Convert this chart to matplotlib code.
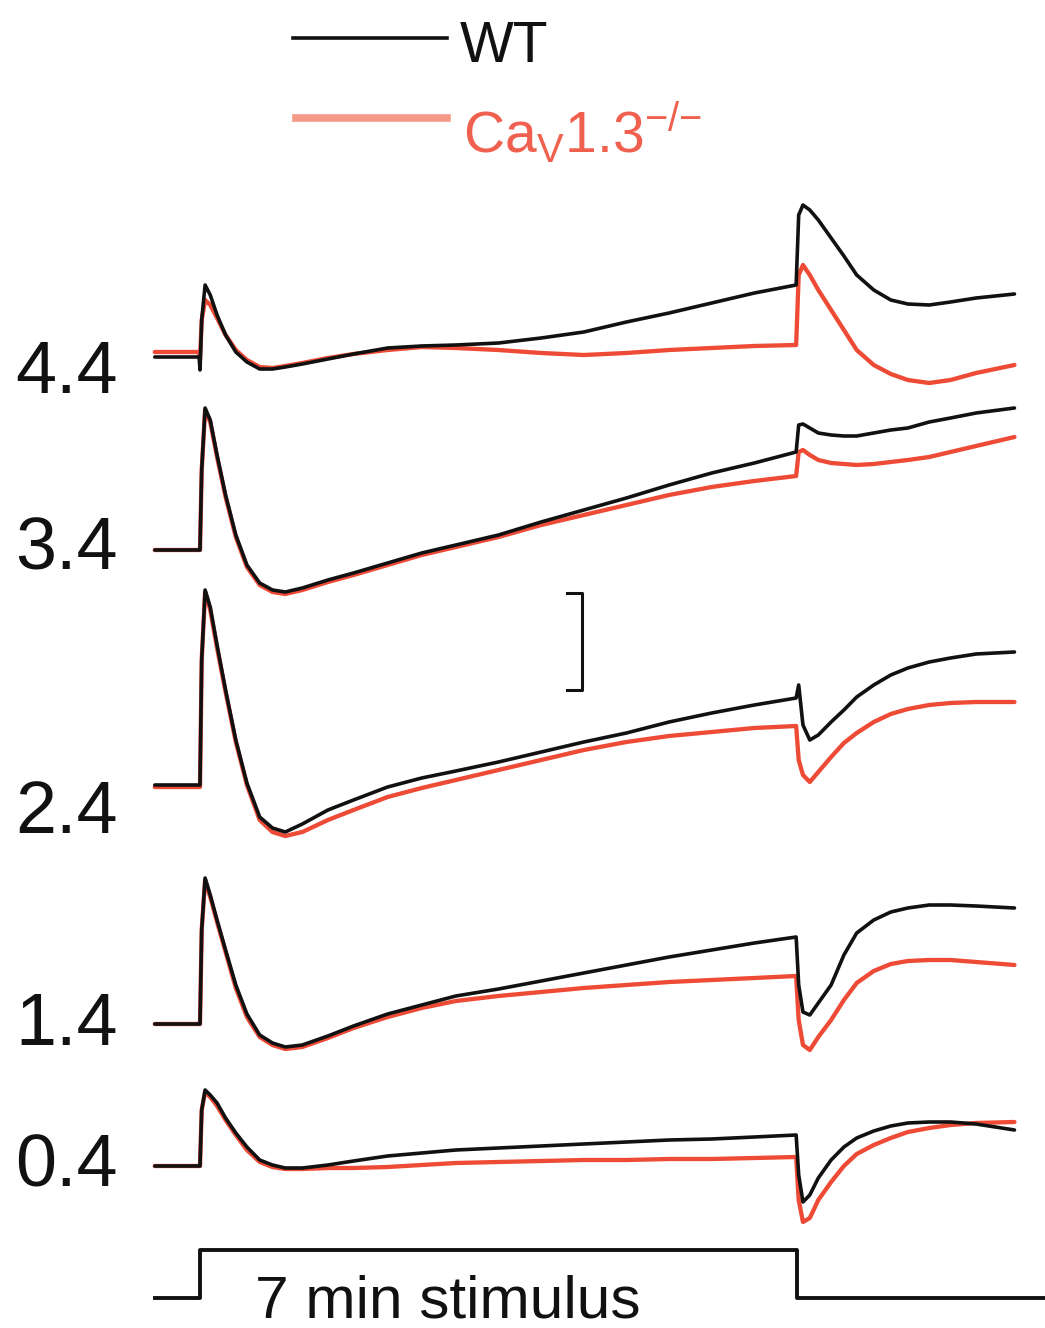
import matplotlib
matplotlib.use("Agg")
import matplotlib.pyplot as plt
import numpy as np

plt.rcParams['font.family'] = ['Liberation Sans', 'DejaVu Sans']
plt.rcParams['mathtext.fontset'] = 'custom'
plt.rcParams['mathtext.rm'] = 'Liberation Sans'

# time axis (minutes, stimulus on at 0, off at 7)
time_min = [-0.53, -0.01, 0.0, 0.02, 0.06, 0.12, 0.2, 0.3, 0.42, 0.55, 0.7, 0.85, 1.0, 1.2,
            1.5, 1.8, 2.2, 2.6, 3.0, 3.5, 4.0, 4.5, 5.0, 5.5, 6.0, 6.5, 6.99, 7.02, 7.07,
            7.15, 7.25, 7.4, 7.55, 7.7, 7.9, 8.1, 8.3, 8.55, 8.8, 9.1, 9.55]

levels = ["4.4", "3.4", "2.4", "1.4", "0.4"]

wt_44 = [-0.2, -0.2, -1.5, 3.5, 7.0, 6.0, 4.0, 2.0, 0.3, -0.7, -1.4, -1.4, -1.2, -0.9, -0.4, 0.1,
         0.7, 0.9, 1.0, 1.2, 1.7, 2.3, 3.3, 4.2, 5.2, 6.2, 7.0, 14.0, 15.0, 14.5, 13.5, 11.7, 9.9,
         8.0, 6.5, 5.5, 5.1, 5.0, 5.3, 5.7, 6.1]
ko_44 = [0.3, 0.3, -0.5, 3.5, 5.5, 5.0, 3.7, 2.0, 0.5, -0.5, -1.2, -1.3, -1.1, -0.8, -0.3, 0.1,
         0.5, 0.8, 0.7, 0.5, 0.2, 0.0, 0.2, 0.5, 0.7, 0.9, 1.0, 8.0, 9.0, 8.0, 6.5, 4.5, 2.5,
         0.5, -1.0, -1.9, -2.5, -2.8, -2.5, -1.8, -1.0]

wt_34 = [0, 0, 0, 8.0, 14.2, 13.0, 9.5, 5.5, 1.5, -1.5, -3.3, -4.0, -4.2, -3.8, -3.0, -2.3,
         -1.3, -0.3, 0.5, 1.5, 2.8, 4.0, 5.2, 6.5, 7.7, 8.7, 9.8, 12.5, 12.6, 12.2, 11.7, 11.5,
         11.4, 11.4, 11.7, 12.0, 12.2, 12.8, 13.2, 13.7, 14.2]
ko_34 = [0, 0, 0, 8.0, 14.0, 12.8, 9.3, 5.3, 1.3, -1.7, -3.5, -4.2, -4.4, -4.0, -3.2, -2.5,
         -1.5, -0.5, 0.3, 1.3, 2.5, 3.5, 4.5, 5.5, 6.3, 6.9, 7.4, 9.8, 10.0, 9.5, 9.0, 8.7,
         8.6, 8.5, 8.6, 8.8, 9.0, 9.3, 9.8, 10.4, 11.3]

wt_24 = [0.2, 0.2, 0.2, 12.7, 19.7, 18.0, 14.2, 9.7, 4.7, 0.4, -3.0, -4.1, -4.5, -3.7, -2.3,
         -1.3, 0.0, 0.9, 1.6, 2.5, 3.5, 4.5, 5.4, 6.5, 7.4, 8.2, 8.9, 10.2, 6.2, 4.7, 5.2, 6.5,
         7.7, 9.0, 10.2, 11.2, 11.9, 12.5, 12.9, 13.3, 13.5]
ko_24 = [0, 0, 0, 12.7, 19.5, 17.7, 13.9, 9.5, 4.5, 0.2, -3.3, -4.5, -4.9, -4.5, -3.3, -2.3,
         -1.0, -0.1, 0.7, 1.7, 2.7, 3.7, 4.5, 5.1, 5.5, 5.9, 6.1, 2.7, 1.2, 0.5, 1.5, 3.0, 4.4,
         5.4, 6.5, 7.3, 7.8, 8.2, 8.4, 8.5, 8.5]

wt_14 = [0, 0, 0, 9.4, 14.6, 12.9, 10.4, 7.4, 3.9, 1.0, -1.1, -1.9, -2.3, -2.1, -1.2, -0.2,
         1.0, 1.9, 2.8, 3.5, 4.3, 5.1, 5.9, 6.7, 7.4, 8.1, 8.7, 3.9, 1.2, 0.9, 2.1, 3.9, 6.9,
         9.1, 10.4, 11.2, 11.6, 11.9, 11.9, 11.8, 11.6]
ko_14 = [0, 0, 0, 9.4, 14.4, 12.7, 10.2, 7.2, 3.6, 0.7, -1.3, -2.1, -2.5, -2.3, -1.4, -0.4,
         0.7, 1.6, 2.3, 2.8, 3.2, 3.6, 3.9, 4.2, 4.4, 4.6, 4.8, 0.4, -2.1, -2.6, -1.3, 0.4, 2.4,
         4.1, 5.3, 6.0, 6.3, 6.4, 6.4, 6.2, 5.9]

wt_04 = [0, 0, 0, 5.6, 7.6, 7.1, 6.3, 4.8, 3.3, 1.9, 0.6, 0.1, -0.2, -0.2, 0.1, 0.5, 1.0, 1.3,
         1.6, 1.8, 2.0, 2.2, 2.4, 2.6, 2.7, 2.9, 3.1, -0.9, -3.6, -2.9, -1.2, 0.6, 1.9, 2.8, 3.5,
         4.0, 4.3, 4.4, 4.4, 4.2, 3.6]
ko_04 = [0, 0, 0, 5.6, 7.4, 6.9, 6.0, 4.6, 3.1, 1.6, 0.4, -0.1, -0.3, -0.3, -0.2, -0.2, -0.1,
         0.1, 0.3, 0.4, 0.5, 0.6, 0.6, 0.7, 0.7, 0.8, 0.9, -3.4, -5.6, -5.2, -3.4, -1.6, 0.0,
         1.2, 2.1, 2.8, 3.4, 3.8, 4.1, 4.3, 4.4]

wt_traces = [wt_44, wt_34, wt_24, wt_14, wt_04]
ko_traces = [ko_44, ko_34, ko_24, ko_14, ko_04]

stim_t = [-0.53, 0.0, 0.0, 7.0, 7.0, 9.9]
stim_v = [0, 0, 1, 1, 0, 0]

BLACK = '#111111'
RED = '#ee4b37'

fig = plt.figure(figsize=(10.45, 13.28), dpi=100)
ax = fig.add_axes([0, 0, 1, 1])
ax.set_xlim(-2.345, 9.908)
ax.set_ylim(-132.8, 0)
ax.axis('off')

baselines = [-35.5, -55.0, -78.7, -102.4, -116.6]
label_y = [-39.3, -57.0, -83.3, -104.5, -118.7]

t = np.array(time_min)
for b, ly, lab, w, k in zip(baselines, label_y, levels, wt_traces, ko_traces):
    ax.plot(t, b + np.array(k), color=RED, lw=3.1, solid_joinstyle='round',
            solid_capstyle='round', zorder=2)
    ax.plot(t, b + np.array(w), color=BLACK, lw=2.6, solid_joinstyle='round',
            solid_capstyle='round', zorder=3)
    ax.text(-0.96, ly, lab, ha='right', va='baseline', fontsize=53, color='#111111')

# stimulus trace
ax.plot(stim_t, -129.8 + 4.8 * np.array(stim_v), color=BLACK, lw=2.8, zorder=3)
ax.text(0.64, -131.8, "7 min stimulus", ha='left', va='baseline', fontsize=43.5, color='#111111')

# scale bar
ax.plot([4.30, 4.48, 4.48, 4.30], [-59.3, -59.3, -69.0, -69.0], color=BLACK, lw=2.2)

# legend
ax.plot([1.09, 2.90], [-3.8, -3.8], color=BLACK, lw=2.6)
ax.plot([1.13, 2.90], [-11.8, -11.8], color='#f59a86', lw=5.5)
ax.text(3.05, -6.2, "WT", ha='left', va='baseline', fontsize=41, color='#111111')
ax.text(3.08, -15.3, r"Ca$_{\mathregular{V}}$1.3$^{\mathregular{{-}/{-}}}$", ha='left',
        va='baseline', fontsize=41, color='#f0604e')

fig.savefig("out.png", dpi=100)
